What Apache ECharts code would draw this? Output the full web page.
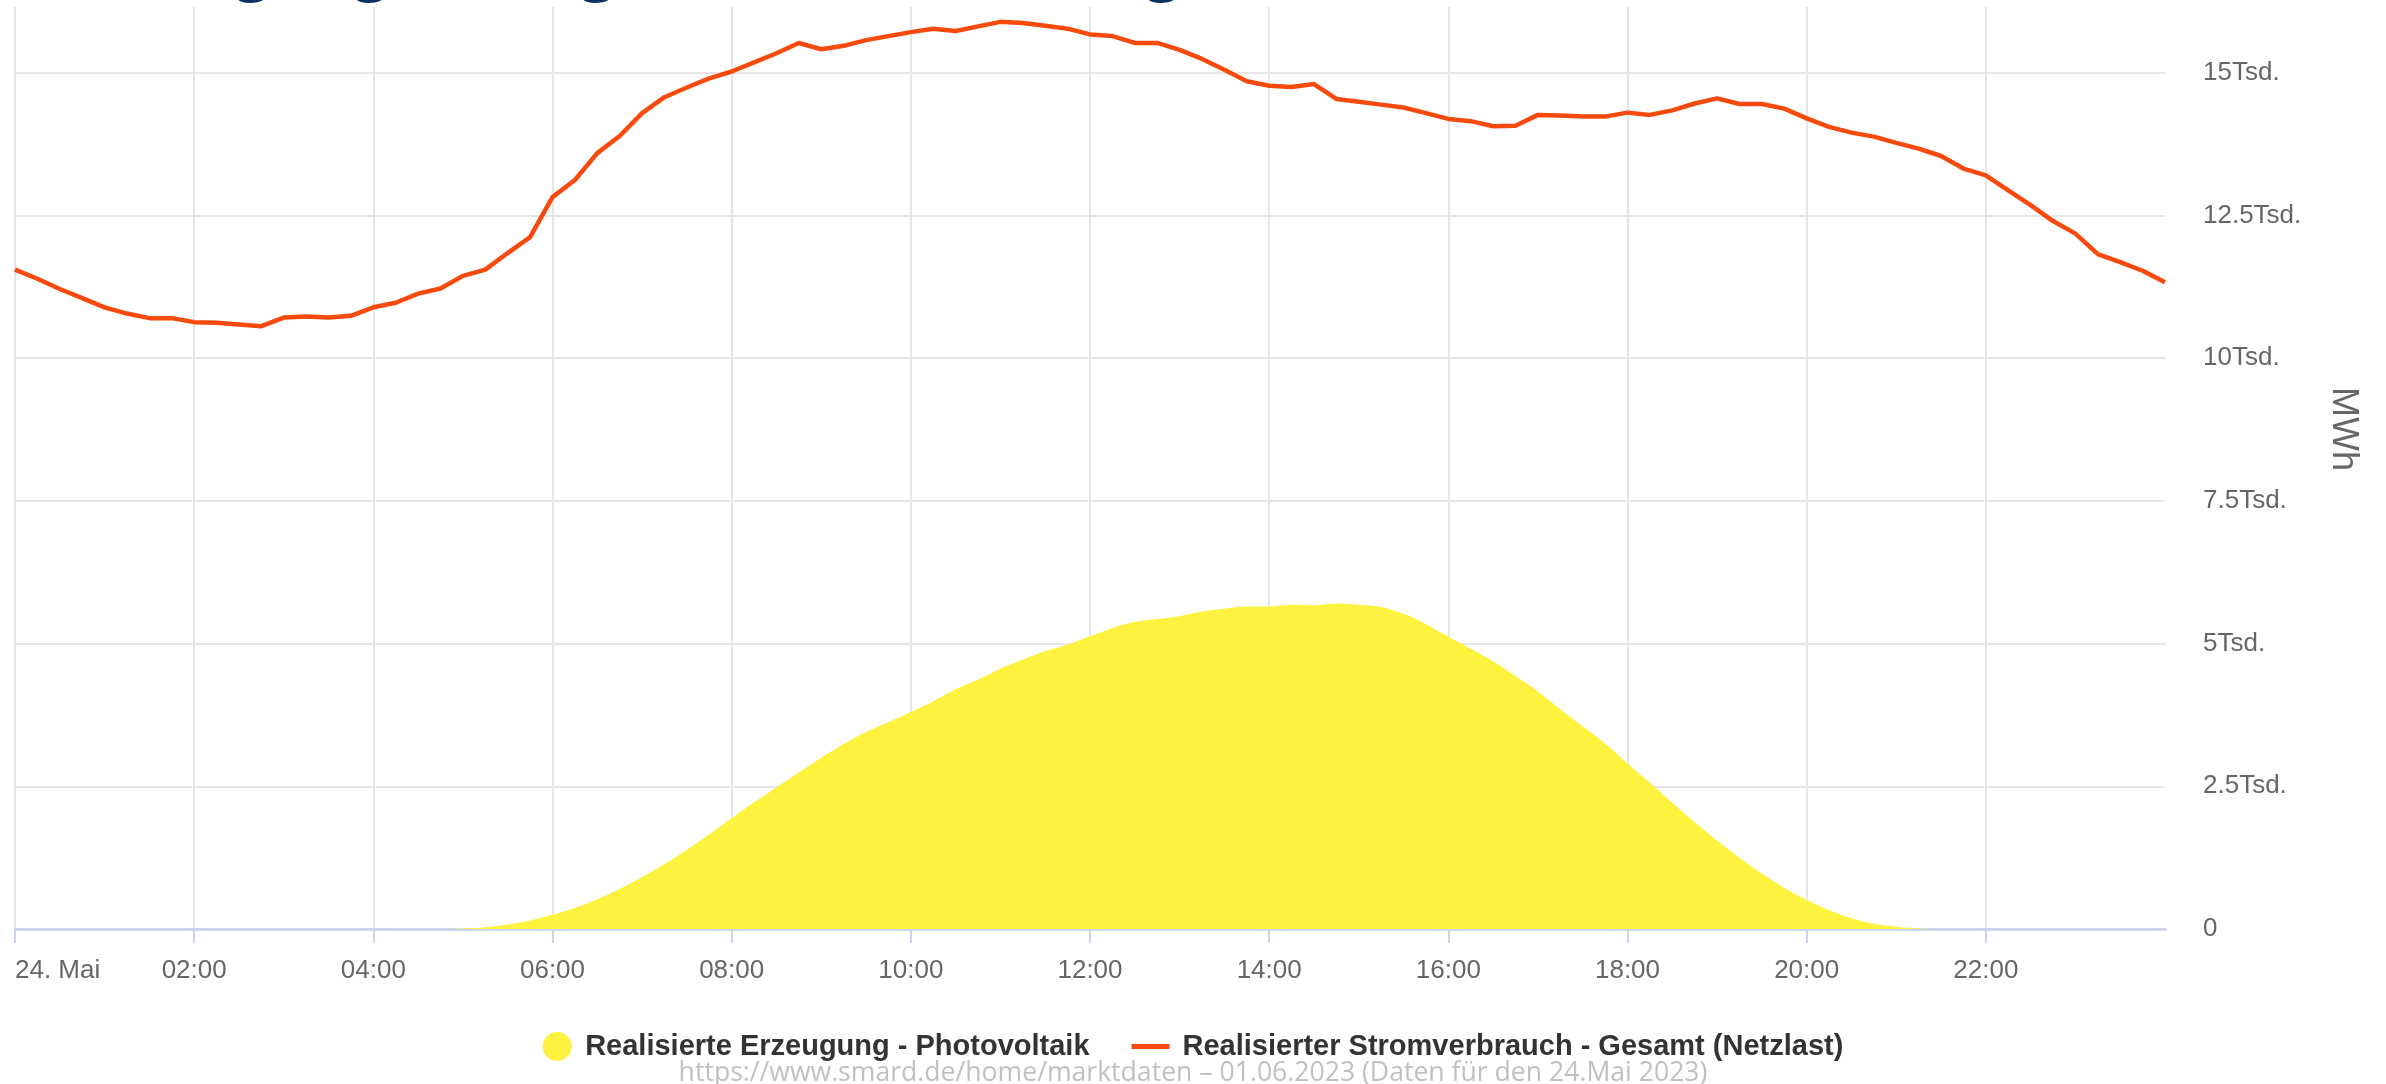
<!DOCTYPE html>
<html>
<head>
    <meta charset="utf-8" />
    <title>Erzeugung und Netzlast 24. Mai 2023</title>
    <script type="text/javascript" src="https://cdn.jsdelivr.net/npm/echarts@6/dist/echarts.min.js"></script>
    <style>
        html, body { margin: 0; padding: 0; background: #fff; }
        #chart { width: 2386px; height: 1084px; }
    </style>
</head>
<body>
    <div id="chart"></div>
    <script type="text/javascript">
        // x-Achse: Stunden 0..24, Beschriftung alle 2 Stunden
        var stundenLabels = ['24. Mai', '02:00', '04:00', '06:00', '08:00', '10:00', '12:00',
            '14:00', '16:00', '18:00', '20:00', '22:00', ''];
        var yLabels = ['0', '2.5Tsd.', '5Tsd.', '7.5Tsd.', '10Tsd.', '12.5Tsd.', '15Tsd.'];

        // Viertelstunden 00:00 .. 24:00 (97 Werte)
        var zeiten = [];
        for (var i = 0; i <= 96; i++) {
            zeiten.push(i / 4);
        }

        // Realisierte Erzeugung - Photovoltaik (MWh)
        var photovoltaik = [
            0, 0, 0, 0, 0, 0, 0, 0, 0, 0, 0, 0, 0, 0, 0, 0, 0, 0, 0, 0,
            10, 30, 80, 150, 250, 370, 520, 700, 910, 1140, 1390, 1660,
            1940, 2220, 2480, 2740, 3000, 3240, 3450, 3620, 3800, 3990, 4200, 4370,
            4560, 4720, 4870, 4980, 5130, 5270, 5380, 5430, 5480, 5560, 5610, 5650,
            5650, 5680, 5670, 5700, 5680, 5640, 5520, 5340, 5120, 4910, 4690, 4430,
            4160, 3850, 3550, 3250, 2900, 2560, 2210, 1870, 1550, 1250, 970, 720,
            510, 330, 190, 90, 40, 10,
            0, 0, 0, 0, 0, 0, 0, 0, 0, 0, 0
        ];

        // Realisierter Stromverbrauch - Gesamt (Netzlast) (MWh)
        var netzlast = [
            11550, 11390, 11210, 11050, 10890, 10780, 10700, 10700,
            10630, 10620, 10590, 10560, 10710, 10730, 10710, 10740,
            10890, 10970, 11130, 11220, 11440, 11550, 11840, 12120,
            12820, 13120, 13590, 13890, 14290, 14570, 14740, 14900,
            15020, 15180, 15340, 15520, 15410, 15470, 15570, 15640,
            15710, 15770, 15730, 15810, 15890, 15870, 15820, 15770,
            15670, 15640, 15520, 15520, 15400, 15240, 15050, 14850,
            14770, 14750, 14800, 14540, 14490, 14440, 14390, 14290,
            14190, 14150, 14060, 14070, 14260, 14250, 14230, 14230,
            14300, 14260, 14340, 14460, 14550, 14450, 14450, 14370,
            14200, 14050, 13950, 13880, 13770, 13670, 13540, 13320,
            13200, 12940, 12680, 12400, 12180, 11820, 11680, 11530,
            11330
        ];

        var pvData = zeiten.map(function (t, k) { return [t, photovoltaik[k]]; });
        var lastData = zeiten.map(function (t, k) { return [t, netzlast[k]]; });

        var gridFarbe = '#e6e6e6';
        var leer = 'rgba(0,0,0,0)';

        var myChart = echarts.init(document.getElementById('chart'), null, { renderer: 'canvas' });
        var option = {
            animation: false,
            backgroundColor: '#ffffff',
            title: [{
                text: 'Erzeugung (Ertrag an diesem sonnigen Mai)',
                left: 59,
                top: -66,
                padding: 0,
                textStyle: { fontFamily: 'Open Sans', fontSize: 67, fontWeight: 'normal', color: '#0a3264' }
            }, {
                text: 'https://www.smard.de/home/marktdaten – 01.06.2023 (Daten für den 24.Mai 2023)',
                left: 'center',
                top: 1060,
                padding: 0,
                textStyle: { fontFamily: 'Open Sans', fontSize: 26.6, fontWeight: 'normal', color: '#c0c0c0' }
            }],
            legend: {
                top: 1027,
                left: 'center',
                itemWidth: 46,
                itemHeight: 29,
                itemGap: 42,
                textStyle: { fontFamily: 'Liberation Sans', fontSize: 29, fontWeight: 'bold', color: '#333333' },
                data: [
                    { name: 'Realisierte Erzeugung - Photovoltaik', icon: 'circle' },
                    { name: 'Realisierter Stromverbrauch - Gesamt (Netzlast)', icon: 'path://M0,0 M0,12 L38,12 L38,17 L0,17 Z M46,29' }
                ]
            },
            grid: {
                left: 15,
                right: 221,
                top: 7,
                bottom: 155,
                containLabel: false,
                outerBoundsMode: 'none'
            },
            xAxis: {
                type: 'value',
                min: 0,
                max: 24,
                interval: 2,
                axisLine: { lineStyle: { color: '#ccd6eb', width: 3 } },
                axisTick: { length: 14, lineStyle: { color: '#ccd6eb', width: 2 },
                    customValues: [0, 2, 4, 6, 8, 10, 12, 14, 16, 18, 20, 22] },
                splitLine: {
                    show: true,
                    lineStyle: { width: 2, color: [gridFarbe, gridFarbe, gridFarbe, gridFarbe, gridFarbe, gridFarbe,
                        gridFarbe, gridFarbe, gridFarbe, gridFarbe, gridFarbe, gridFarbe, leer] }
                },
                axisLabel: {
                    margin: 29,
                    fontFamily: 'Liberation Sans',
                    fontSize: 26,
                    color: '#666666',
                    alignMinLabel: 'left',
                    formatter: function (v) { return stundenLabels[Math.round(v / 2)] || ''; }
                }
            },
            yAxis: {
                type: 'value',
                position: 'right',
                min: 0,
                max: 16150,
                interval: 2500,
                name: 'MWh',
                nameLocation: 'middle',
                nameRotate: -90,
                nameGap: 160,
                nameTextStyle: { fontFamily: 'Liberation Sans', fontSize: 36, color: '#666666', padding: [0, 78, 0, 0] },
                axisLine: { show: false },
                axisTick: { show: false },
                splitLine: {
                    lineStyle: { width: 2, color: [gridFarbe, gridFarbe, gridFarbe, gridFarbe, gridFarbe, gridFarbe, gridFarbe, leer] }
                },
                axisLabel: {
                    margin: 38,
                    fontFamily: 'Liberation Sans',
                    fontSize: 26,
                    color: '#666666',
                    formatter: function (v) {
                        if (v % 2500 !== 0) return '';
                        return yLabels[v / 2500] || '';
                    }
                }
            },
            series: [{
                name: 'Realisierte Erzeugung - Photovoltaik',
                type: 'line',
                data: pvData,
                symbol: 'none',
                smooth: 0.3,
                lineStyle: { width: 0 },
                itemStyle: { color: '#fff23f' },
                areaStyle: { color: '#fff23f', opacity: 1 },
                z: 1
            }, {
                name: 'Realisierter Stromverbrauch - Gesamt (Netzlast)',
                type: 'line',
                data: lastData,
                symbol: 'none',
                lineStyle: { width: 4.5, color: '#f94a0e' },
                itemStyle: { color: '#f94a0e' },
                z: 3
            }]
        };
        option && myChart.setOption(option);
    </script>
</body>
</html>
